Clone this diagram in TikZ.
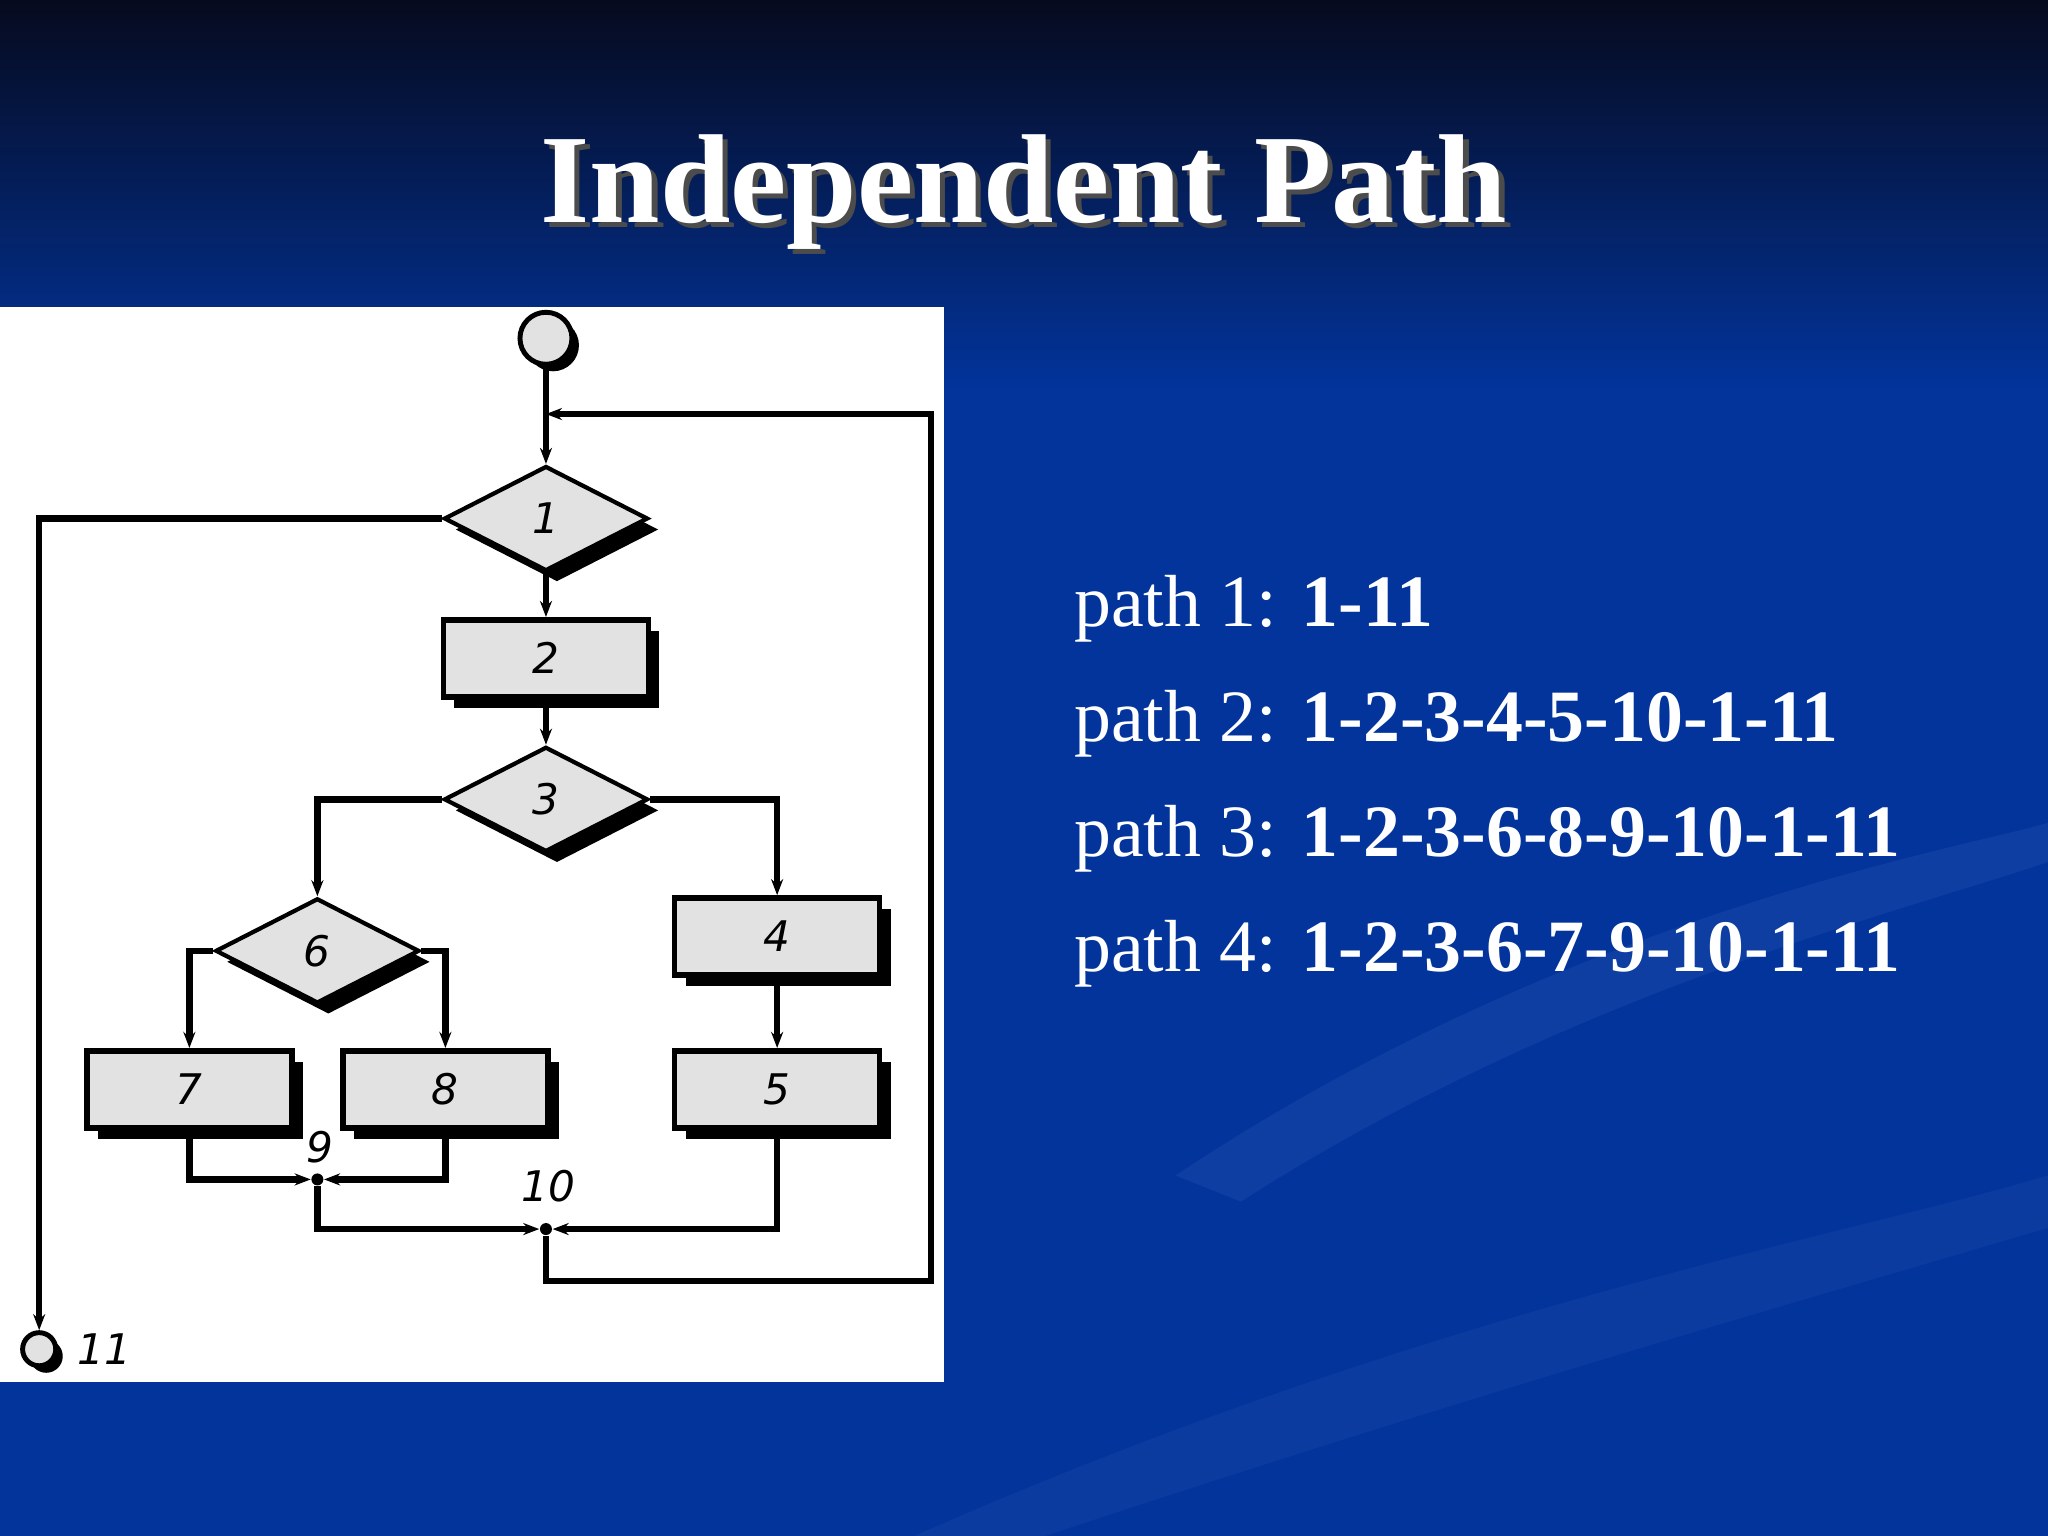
\documentclass[tikz,border=0pt]{standalone}
\usepackage{fontspec}
\setmainfont{Liberation Serif}
\newfontfamily\lblfont{DejaVu Sans}
\usetikzlibrary{shapes.geometric,shadows,arrows.meta}
\definecolor{bgtop}{HTML}{060A1E}
\definecolor{bgmid}{HTML}{0A2878}
\definecolor{bgbot}{HTML}{02349C}
\definecolor{boxfill}{HTML}{E2E2E2}
\begin{document}
\begin{tikzpicture}[x=0.013061cm,y=-0.013061cm,
  shd/.style={drop shadow={shadow xshift=0.11cm,shadow yshift=-0.11cm,fill=black,opacity=1}},
  dia/.style={diamond,draw=black,line width=1.2pt,fill=boxfill,minimum width=2.04cm,minimum height=1.05cm,inner sep=0pt,shd,font=\lblfont\itshape\large},
  box/.style={rectangle,draw=black,line width=1.6pt,fill=boxfill,minimum width=2.05cm,minimum height=0.77cm,inner sep=0pt,shd,font=\lblfont\itshape\large},
  term/.style={circle,draw=black,line width=1.4pt,fill=boxfill,drop shadow={shadow xshift=0.07cm,shadow yshift=-0.07cm,fill=black,opacity=1}},
  junc/.style={circle,fill=black,inner sep=0pt,minimum size=0.12cm},
  ln/.style={line width=1.8pt,-{Stealth[length=0.16cm,width=0.12cm]}},
  pl/.style={line width=1.8pt},
  lab/.style={font=\lblfont\itshape\large}]
\useasboundingbox (0,0) rectangle (1568,1176);
\shade[top color=bgtop,middle color=bgmid,bottom color=bgbot,shading angle=0] (0,0) rectangle (1568,300);
\fill[bgbot] (0,299) rectangle (1568,1176);
\fill[white,opacity=0.05] (900,900) .. controls (1200,700) and (1500,650) .. (1568,630) -- (1568,660) .. controls (1450,700) and (1200,760) .. (950,920) -- cycle;
\fill[white,opacity=0.04] (700,1176) .. controls (1100,1000) and (1400,950) .. (1568,900) -- (1568,940) .. controls (1400,990) and (1150,1060) .. (800,1176) -- cycle;
% title
\node[text=black!70,font=\fontsize{36}{40}\selectfont\bfseries] at (788,151) {Independent Path};
\node[text=white,font=\fontsize{36}{40}\selectfont\bfseries] (title) at (784,147) {Independent Path};
% panel
\fill[white] (0,235) rectangle (723,1058);
% nodes
\node[term,minimum size=0.52cm] (s) at (418,259) {};
\node[dia] (n1) at (418,397) {1};
\node[box] (n2) at (418,504) {2};
\node[dia] (n3) at (418,612) {3};
\node[dia] (n6) at (243,728) {6};
\node[box] (n4) at (595,717) {4};
\node[box] (n5) at (595,834) {5};
\node[box] (n7) at (145,834) {7};
\node[box] (n8) at (341,834) {8};
\node[junc] (j9) at (243,903) {};
\node[junc] (j10) at (418,941) {};
\node[term,minimum size=0.3cm] (e) at (30,1033) {};
\node[lab] at (245,878) {9};
\node[lab] at (420,908) {10};
\node[lab,anchor=west] at (50,1033) {11};
\coordinate (loopin) at (418,317);
% connectors
\draw[ln] (s) -- (n1);
\draw[ln] (j10) |- (713,981) |- (loopin);
\draw[ln] (n1.west) -| (e.north);
\draw[ln] (n1) -- (n2);
\draw[ln] (n2) -- (n3);
\draw[ln] (n3.west) -| (n6.north);
\draw[ln] (n3.east) -| (n4.north);
\draw[ln] (n4) -- (n5);
\draw[ln] (n6.west) -| (n7.north);
\draw[ln] (n6.east) -| (n8.north);
\draw[ln] (n7.south) |- (j9);
\draw[ln] (n8.south) |- (j9);
\draw[ln] (j9) |- (j10);
\draw[ln] (n5.south) |- (j10);
% paths
\begin{scope}[every node/.style={anchor=base west,text=white,font=\fontsize{21}{24}\selectfont}]
\node (p1) at (813,480) {path 1: \textbf{1-11}};
\node (p2) at (813,568) {path 2: \textbf{1-2-3-4-5-10-1-11}};
\node (p3) at (813,656) {path 3: \textbf{1-2-3-6-8-9-10-1-11}};
\node (p4) at (813,744) {path 4: \textbf{1-2-3-6-7-9-10-1-11}};
\end{scope}
\end{tikzpicture}
\end{document}
